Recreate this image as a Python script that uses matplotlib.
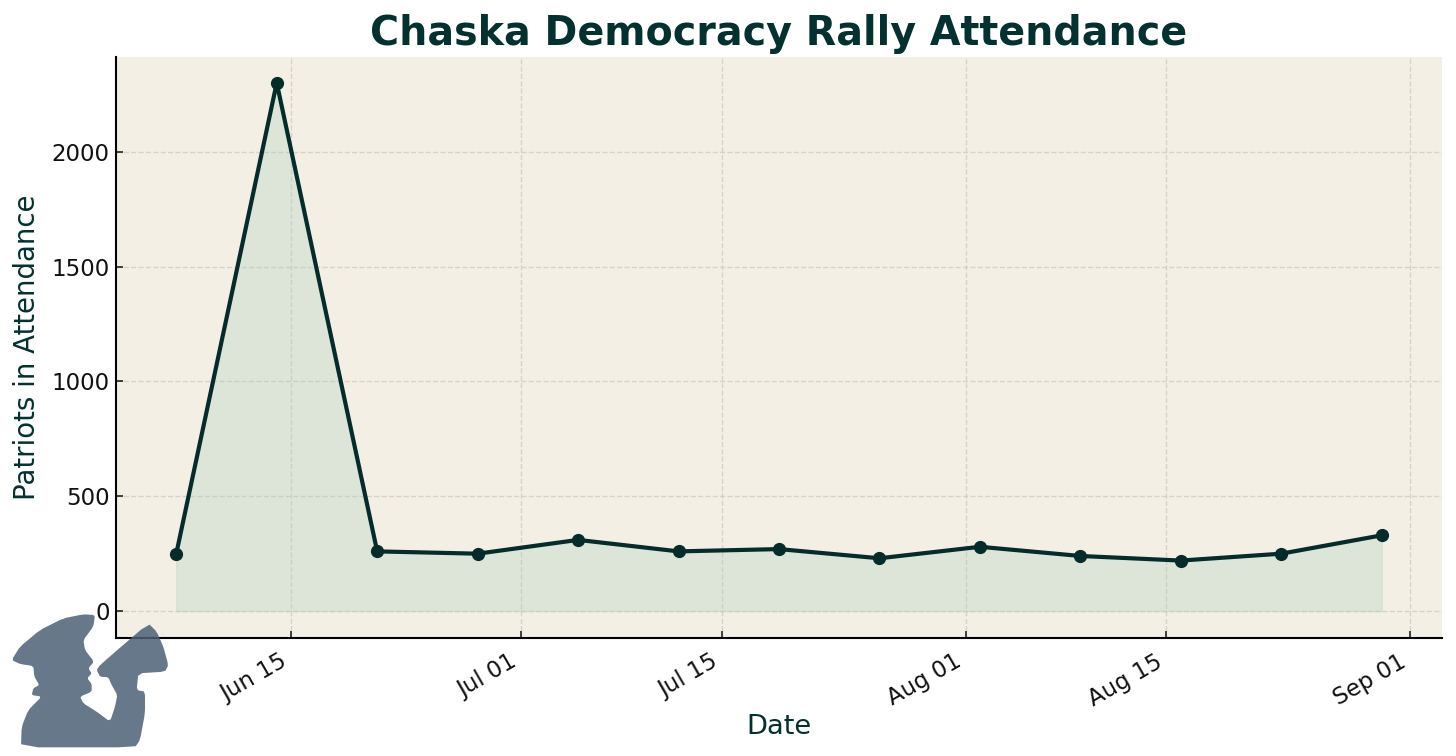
import matplotlib
matplotlib.use("Agg")
import matplotlib.pyplot as plt
import matplotlib.dates as mdates
import pandas as pd
from matplotlib.patches import Polygon

dates = pd.to_datetime(["2024-06-07", "2024-06-14", "2024-06-21", "2024-06-28", "2024-07-05",
                        "2024-07-12", "2024-07-19", "2024-07-26", "2024-08-02", "2024-08-09",
                        "2024-08-16", "2024-08-23", "2024-08-30"])
attendance = [250, 2300, 260, 250, 310, 260, 270, 230, 280, 240, 220, 250, 330]
tick_dates = pd.to_datetime(["2024-06-15", "2024-07-01", "2024-07-15", "2024-08-01", "2024-08-15", "2024-09-01"])
y_ticks = [0, 500, 1000, 1500, 2000]

dark = "#04302f"
W, H = 1456, 756

fig = plt.figure(figsize=(W / 100, H / 100), dpi=100)
ax = fig.add_axes([116 / W, 1 - 637.5 / H, (1442 - 116) / W, (637.5 - 56.5) / H])
ax.set_facecolor("#f4efe5")

ax.fill_between(dates, attendance, 0, color="#a9d0bb", alpha=0.3, zorder=2)
ax.plot(dates, attendance, color="#062b2b", lw=3, marker="o", ms=8.5, zorder=3)

ax.set_xticks(tick_dates)
ax.xaxis.set_major_formatter(mdates.DateFormatter("%b %d"))
ax.set_yticks(y_ticks)
ax.grid(True, linestyle="--", color="#c9c9c0", alpha=0.7, lw=1, zorder=1)
ax.tick_params(axis="both", direction="in", labelsize=16.5, length=5, width=1.1, colors="#111111")
ax.tick_params(axis="x", pad=9)
ax.tick_params(axis="y", pad=4.5)
plt.setp(ax.get_xticklabels(), rotation=30, ha="right")

ax.spines["top"].set_visible(False)
ax.spines["right"].set_visible(False)
ax.spines["left"].set_linewidth(1.5)
ax.spines["bottom"].set_linewidth(1.5)

fig.text(779 / W, 1 - 727 / H, "Date", fontsize=19.6, color=dark, ha="center", va="center")
fig.text(27 / W, 1 - 347 / H, "Patriots in Attendance", fontsize=19.9, color=dark,
         rotation=90, ha="center", va="center")
fig.text(779 / W, 1 - 33.5 / H, "Chaska Democracy Rally Attendance", fontsize=28.5,
         fontweight="bold", color=dark, ha="center", va="center")

# speaker silhouette in the bottom left corner, traced in pixels of the zoomed crop
outline = [(285, 75), (280, 110), (250, 150), (255, 180), (282, 215), (265, 235), (275, 250),
           (262, 265), (275, 282), (275, 305), (240, 320), (250, 340), (290, 365), (330, 395),
           (345, 350), (352, 315), (335, 285), (325, 262), (300, 260), (290, 240), (300, 225),
           (445, 100), (470, 125), (490, 170), (505, 225), (495, 245), (415, 250), (410, 300),
           (435, 305), (435, 370), (420, 450), (405, 472), (63, 472), (65, 410), (85, 360),
           (125, 320), (95, 315), (100, 295), (118, 285), (103, 260), (100, 228), (60, 222),
           (35, 210), (60, 170), (120, 120), (190, 85), (250, 73)]


def smooth(points, rounds=1):
    # corner cutting, keeps the traced outline from looking faceted
    for _ in range(rounds):
        new = []
        for i, (x0, y0) in enumerate(points):
            x1, y1 = points[(i + 1) % len(points)]
            new.append((0.85 * x0 + 0.15 * x1, 0.85 * y0 + 0.15 * y1))
            new.append((0.15 * x0 + 0.85 * x1, 0.15 * y0 + 0.85 * y1))
        points = new
    return points


pts = [(x / 3 / W, 1 - (590 + y / 3) / H) for x, y in smooth(outline)]
fig.add_artist(Polygon(pts, closed=True, transform=fig.transFigure, facecolor="#4b6175",
                       edgecolor="none", alpha=0.85, zorder=10))

fig.savefig("out.png", dpi=100)
